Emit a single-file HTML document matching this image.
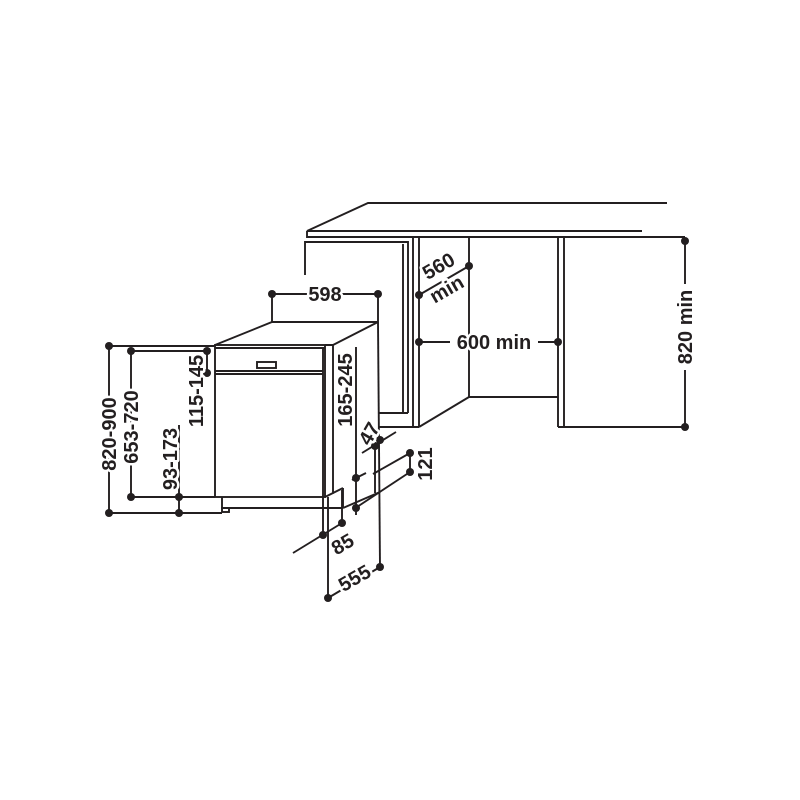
<!DOCTYPE html>
<html><head><style>body{margin:0;background:#fff}svg{display:block}text{font-family:"Liberation Sans",sans-serif;font-weight:bold;font-size:20px;fill:#231f20;stroke:#fff;stroke-width:5px;paint-order:stroke;stroke-linejoin:round}</style></head>
<body>
<svg width="800" height="800" viewBox="0 0 800 800" xmlns="http://www.w3.org/2000/svg">
<g stroke="#231f20" stroke-width="1.9" fill="none">
<polyline points="667,203 368,203 307,231 642,231"/>
<polyline points="307,231 307,237 685,237"/>
<polyline points="305,275 305,242 408,242 408,413"/>
<line x1="403" y1="244" x2="403" y2="413"/>
<line x1="378" y1="413" x2="408" y2="413"/>
<line x1="378" y1="427" x2="419" y2="427"/>
<line x1="413" y1="238" x2="413" y2="427"/>
<line x1="419" y1="238" x2="419" y2="427"/>
<line x1="469" y1="238" x2="469" y2="397"/>
<line x1="419" y1="427" x2="469" y2="397"/>
<line x1="469" y1="397" x2="558" y2="397"/>
<line x1="558" y1="238" x2="558" y2="427"/>
<line x1="564" y1="238" x2="564" y2="427"/>
<line x1="558" y1="427" x2="685" y2="427"/>
<line x1="272" y1="294" x2="272" y2="322"/>
<line x1="378" y1="294" x2="378" y2="322"/>
<polyline points="215,345 272,322 378,322 333,345"/>
<line x1="378" y1="322" x2="380" y2="567"/>
<rect x="215" y="345" width="110" height="152"/>
<line x1="215" y1="348" x2="325" y2="348"/>
<line x1="323" y1="348" x2="323" y2="497"/>
<polyline points="325,345 333,345 333,493 325,497"/>
<line x1="215" y1="371" x2="323" y2="371"/>
<line x1="215" y1="374" x2="323" y2="374"/>
<rect x="257" y="362" width="19" height="6"/>
<line x1="333" y1="493" x2="343" y2="488"/>
<polyline points="222,497 222,508 343,508"/>
<line x1="343" y1="488" x2="343" y2="508"/>
<rect x="222" y="508" width="7" height="4"/>
<line x1="343" y1="508" x2="380" y2="492"/>
<line x1="272" y1="294" x2="378" y2="294"/>
<line x1="109" y1="346" x2="215" y2="346"/><line x1="109" y1="513" x2="222" y2="513"/>
<line x1="109" y1="346" x2="109" y2="513"/>
<line x1="131" y1="351" x2="207" y2="351"/><line x1="131" y1="497" x2="215" y2="497"/>
<line x1="131" y1="351" x2="131" y2="497"/>
<line x1="179" y1="425" x2="179" y2="513"/>
<line x1="207" y1="351" x2="207" y2="373"/>
<line x1="356" y1="347" x2="356" y2="515"/>
<line x1="323" y1="497" x2="323" y2="535"/>
<line x1="328" y1="497" x2="328" y2="598"/>
<line x1="342" y1="490" x2="342" y2="523"/>
<line x1="293" y1="553" x2="342" y2="523"/>
<line x1="328" y1="598" x2="380" y2="567"/>
<line x1="375" y1="446" x2="375" y2="493"/>
<line x1="362" y1="453" x2="396" y2="432"/>
<line x1="373" y1="474" x2="410" y2="453"/>
<line x1="357" y1="507" x2="410" y2="472"/>
<line x1="352" y1="480" x2="366" y2="473"/>
<line x1="410" y1="453" x2="410" y2="472"/>
<line x1="419" y1="295" x2="469" y2="266"/>
<line x1="419" y1="342" x2="450" y2="342"/><line x1="538" y1="342" x2="558" y2="342"/>
<line x1="685" y1="241" x2="685" y2="284"/><line x1="685" y1="370" x2="685" y2="427"/>
</g>
<g fill="#231f20">
<circle cx="272" cy="294" r="4"/><circle cx="378" cy="294" r="4"/>
<circle cx="109" cy="346" r="4"/><circle cx="109" cy="513" r="4"/>
<circle cx="131" cy="351" r="4"/><circle cx="131" cy="497" r="4"/>
<circle cx="179" cy="497" r="4"/><circle cx="179" cy="513" r="4"/>
<circle cx="207" cy="351" r="4"/><circle cx="207" cy="373" r="4"/>
<circle cx="356" cy="478" r="4"/><circle cx="356" cy="508" r="4"/>
<circle cx="375" cy="446" r="4"/><circle cx="380" cy="440" r="4"/>
<circle cx="410" cy="453" r="4"/><circle cx="410" cy="472" r="4"/>
<circle cx="323" cy="535" r="4"/><circle cx="342" cy="523" r="4"/>
<circle cx="328" cy="598" r="4"/><circle cx="380" cy="567" r="4"/>
<circle cx="419" cy="295" r="4"/><circle cx="469" cy="266" r="4"/>
<circle cx="419" cy="342" r="4"/><circle cx="558" cy="342" r="4"/>
<circle cx="685" cy="241" r="4"/><circle cx="685" cy="427" r="4"/>
</g>
<text x="325" y="301" text-anchor="middle">598</text>
<text x="494" y="349" text-anchor="middle">600 min</text>
<text transform="translate(692,327) rotate(-90)" text-anchor="middle">820 min</text>
<text transform="translate(442,272) rotate(-30)" text-anchor="middle">560</text>
<text transform="translate(450,295) rotate(-30)" text-anchor="middle">min</text>
<text transform="translate(116,434) rotate(-90)" text-anchor="middle">820-900</text>
<text transform="translate(138,427) rotate(-90)" text-anchor="middle">653-720</text>
<text transform="translate(177,459) rotate(-90)" text-anchor="middle">93-173</text>
<text transform="translate(203,391) rotate(-90)" text-anchor="middle">115-145</text>
<text transform="translate(352,390) rotate(-90)" text-anchor="middle">165-245</text>
<text transform="translate(375,437) rotate(-60)" text-anchor="middle">47</text>
<text transform="translate(432,464) rotate(-90)" text-anchor="middle">121</text>
<text transform="translate(346,550) rotate(-30)" text-anchor="middle">85</text>
<text transform="translate(358,584) rotate(-30)" text-anchor="middle">555</text>
</svg>
</body></html>
